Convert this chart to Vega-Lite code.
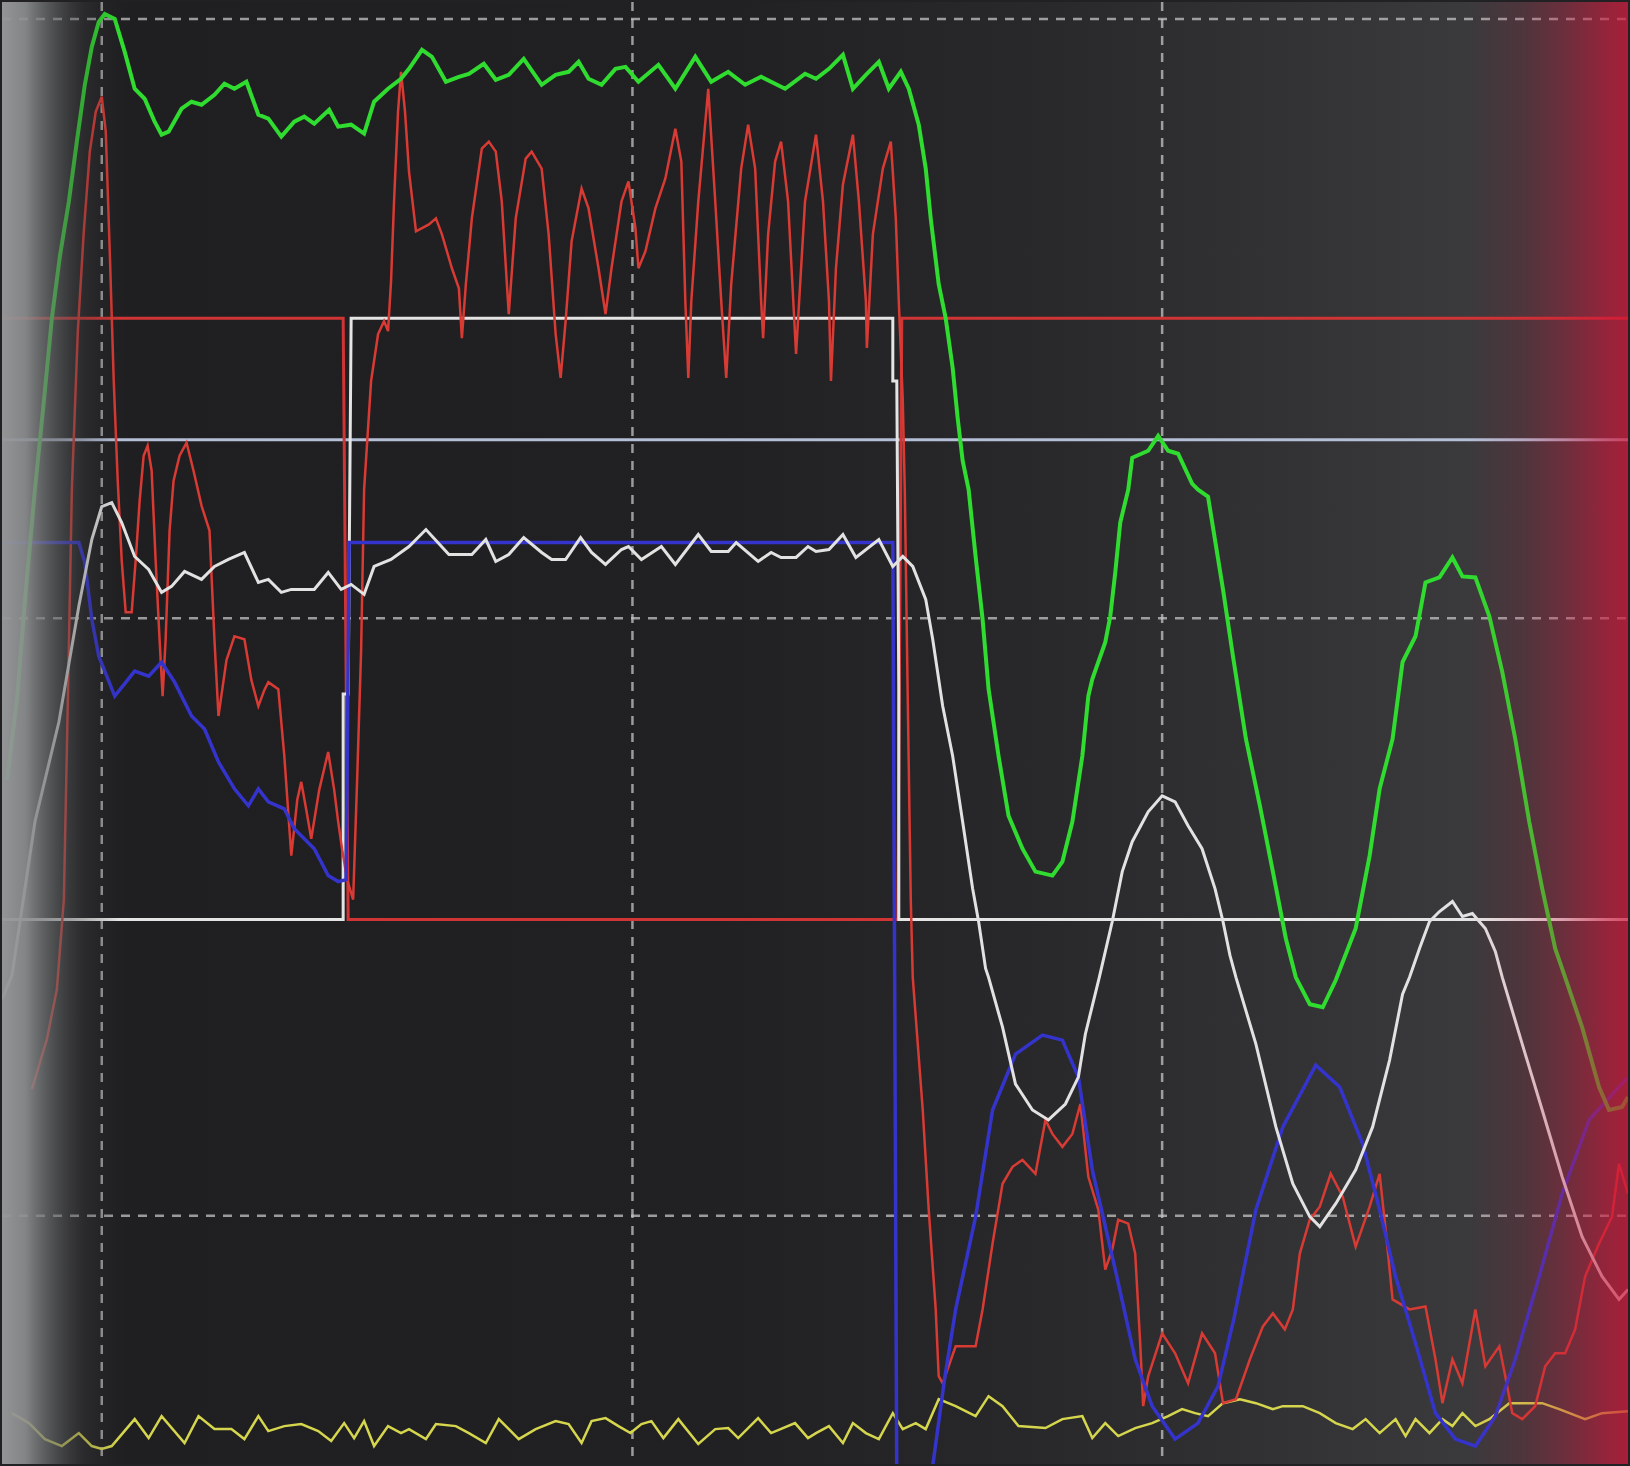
{
"$schema":"https://vega.github.io/schema/vega-lite/v6.json",
"width":1630,"height":1466,
"autosize":{"type":"fit","contains":"padding"},
"padding":0,
"background":"#212123",
"config":{"view":{"stroke":null}},
"encoding":{
 "x":{"field":"t","type":"quantitative","scale":{"domain":[0,1630],"nice":false,"zero":false},"axis":null},
 "y":{"field":"v","type":"quantitative","scale":{"domain":[0,1466],"reverse":true,"nice":false,"zero":false},"axis":null}
},
"datasets":{
 "bg":[{"t":0,"t2":1630,"v":0,"v2":1466}],
 "leftfade":[{"t":0,"t2":118,"v":0,"v2":1466}],
 "rightfade":[{"t":1470,"t2":1630,"v":0,"v2":1466}],
 "vgrid":[{"t":100,"v":0,"v2":1466},{"t":632,"v":0,"v2":1466},{"t":1163,"v":0,"v2":1466}],
 "hgrid":[{"t":0,"t2":1630,"v":17},{"t":0,"t2":1630,"v":618},{"t":0,"t2":1630,"v":1217}],
 "level":[{"t":0,"t2":1630,"v":439}],
 "redStep":[{"t":0,"v":317},{"t":342,"v":317},{"t":347,"v":920},{"t":898,"v":920},{"t":902,"v":317},{"t":1630,"v":317}],
 "whiteStep":[{"t":0,"v":920},{"t":342,"v":920},{"t":342,"v":694},{"t":347,"v":694},{"t":350,"v":317},{"t":893,"v":317},{"t":893,"v":380},{"t":897,"v":380},{"t":899,"v":689},{"t":899,"v":920},{"t":1630,"v":920}],
 "green":[{"t":5,"v":780},{"t":15,"v":700},{"t":23,"v":600},{"t":33,"v":489},{"t":42,"v":400},{"t":50,"v":317},{"t":58,"v":255},{"t":67,"v":200},{"t":75,"v":140},{"t":83,"v":83},{"t":90,"v":45},{"t":97,"v":20},{"t":103,"v":12},{"t":113,"v":17},{"t":123,"v":50},{"t":133,"v":87},{"t":143,"v":97},{"t":153,"v":120},{"t":160,"v":133},{"t":167,"v":130},{"t":180,"v":107},{"t":190,"v":100},{"t":200,"v":103},{"t":213,"v":93},{"t":223,"v":82},{"t":233,"v":87},{"t":245,"v":80},{"t":257,"v":113},{"t":267,"v":117},{"t":280,"v":135},{"t":293,"v":120},{"t":303,"v":115},{"t":313,"v":122},{"t":328,"v":108},{"t":337,"v":125},{"t":350,"v":123},{"t":363,"v":132},{"t":373,"v":100},{"t":387,"v":87},{"t":400,"v":77},{"t":408,"v":67},{"t":421,"v":48},{"t":431,"v":55},{"t":445,"v":80},{"t":458,"v":75},{"t":468,"v":72},{"t":483,"v":62},{"t":495,"v":78},{"t":508,"v":73},{"t":523,"v":57},{"t":541,"v":83},{"t":555,"v":73},{"t":568,"v":70},{"t":578,"v":60},{"t":588,"v":77},{"t":601,"v":83},{"t":615,"v":67},{"t":625,"v":65},{"t":638,"v":80},{"t":658,"v":63},{"t":675,"v":87},{"t":695,"v":55},{"t":711,"v":80},{"t":728,"v":70},{"t":745,"v":83},{"t":761,"v":75},{"t":785,"v":87},{"t":805,"v":72},{"t":816,"v":77},{"t":829,"v":67},{"t":843,"v":53},{"t":853,"v":87},{"t":866,"v":73},{"t":879,"v":60},{"t":889,"v":87},{"t":901,"v":70},{"t":909,"v":87},{"t":919,"v":123},{"t":926,"v":167},{"t":931,"v":217},{"t":939,"v":283},{"t":946,"v":317},{"t":953,"v":367},{"t":958,"v":417},{"t":963,"v":460},{"t":969,"v":489},{"t":976,"v":556},{"t":983,"v":619},{"t":989,"v":689},{"t":999,"v":756},{"t":1009,"v":816},{"t":1023,"v":849},{"t":1036,"v":872},{"t":1053,"v":876},{"t":1063,"v":862},{"t":1073,"v":822},{"t":1083,"v":756},{"t":1089,"v":696},{"t":1093,"v":679},{"t":1106,"v":642},{"t":1111,"v":616},{"t":1116,"v":572},{"t":1121,"v":522},{"t":1129,"v":489},{"t":1133,"v":457},{"t":1149,"v":450},{"t":1159,"v":435},{"t":1169,"v":450},{"t":1179,"v":453},{"t":1193,"v":483},{"t":1199,"v":489},{"t":1209,"v":496},{"t":1224,"v":589},{"t":1234,"v":656},{"t":1247,"v":739},{"t":1261,"v":806},{"t":1274,"v":872},{"t":1287,"v":939},{"t":1297,"v":978},{"t":1311,"v":1005},{"t":1324,"v":1008},{"t":1337,"v":981},{"t":1357,"v":929},{"t":1371,"v":856},{"t":1381,"v":789},{"t":1394,"v":739},{"t":1404,"v":662},{"t":1417,"v":636},{"t":1427,"v":582},{"t":1441,"v":577},{"t":1454,"v":557},{"t":1464,"v":576},{"t":1477,"v":577},{"t":1491,"v":616},{"t":1504,"v":672},{"t":1517,"v":739},{"t":1531,"v":822},{"t":1544,"v":889},{"t":1557,"v":949},{"t":1567,"v":978},{"t":1584,"v":1028},{"t":1601,"v":1088},{"t":1611,"v":1111},{"t":1624,"v":1108},{"t":1630,"v":1098}],
 "red":[{"t":30,"v":1090},{"t":45,"v":1040},{"t":55,"v":990},{"t":62,"v":900},{"t":66,"v":700},{"t":70,"v":489},{"t":76,"v":330},{"t":82,"v":230},{"t":88,"v":150},{"t":94,"v":110},{"t":100,"v":95},{"t":104,"v":130},{"t":108,"v":250},{"t":112,"v":380},{"t":116,"v":480},{"t":120,"v":560},{"t":124,"v":612},{"t":130,"v":612},{"t":134,"v":560},{"t":138,"v":500},{"t":142,"v":455},{"t":146,"v":445},{"t":150,"v":470},{"t":154,"v":560},{"t":158,"v":640},{"t":161,"v":696},{"t":164,"v":640},{"t":168,"v":530},{"t":172,"v":480},{"t":178,"v":455},{"t":185,"v":442},{"t":192,"v":470},{"t":200,"v":505},{"t":208,"v":530},{"t":213,"v":640},{"t":217,"v":716},{"t":225,"v":660},{"t":233,"v":636},{"t":243,"v":639},{"t":250,"v":680},{"t":257,"v":706},{"t":263,"v":690},{"t":267,"v":682},{"t":277,"v":689},{"t":283,"v":756},{"t":290,"v":856},{"t":296,"v":800},{"t":300,"v":782},{"t":305,"v":810},{"t":310,"v":839},{"t":318,"v":790},{"t":327,"v":752},{"t":333,"v":790},{"t":337,"v":822},{"t":341,"v":850},{"t":346,"v":880},{"t":352,"v":900},{"t":356,"v":780},{"t":360,"v":650},{"t":363,"v":489},{"t":370,"v":380},{"t":377,"v":333},{"t":383,"v":320},{"t":387,"v":330},{"t":390,"v":280},{"t":393,"v":200},{"t":397,"v":110},{"t":400,"v":70},{"t":404,"v":110},{"t":408,"v":170},{"t":415,"v":230},{"t":428,"v":223},{"t":435,"v":217},{"t":441,"v":233},{"t":451,"v":267},{"t":458,"v":287},{"t":461,"v":337},{"t":465,"v":283},{"t":471,"v":217},{"t":481,"v":147},{"t":488,"v":140},{"t":495,"v":150},{"t":501,"v":200},{"t":508,"v":313},{"t":515,"v":217},{"t":525,"v":157},{"t":531,"v":150},{"t":541,"v":167},{"t":548,"v":233},{"t":555,"v":333},{"t":560,"v":377},{"t":565,"v":320},{"t":571,"v":240},{"t":581,"v":187},{"t":588,"v":207},{"t":598,"v":267},{"t":605,"v":313},{"t":611,"v":267},{"t":621,"v":200},{"t":628,"v":180},{"t":635,"v":227},{"t":638,"v":267},{"t":645,"v":250},{"t":655,"v":207},{"t":665,"v":177},{"t":675,"v":127},{"t":681,"v":160},{"t":685,"v":300},{"t":688,"v":377},{"t":691,"v":300},{"t":698,"v":200},{"t":708,"v":87},{"t":715,"v":200},{"t":721,"v":300},{"t":726,"v":377},{"t":731,"v":283},{"t":741,"v":167},{"t":748,"v":123},{"t":755,"v":167},{"t":761,"v":300},{"t":763,"v":337},{"t":768,"v":233},{"t":775,"v":160},{"t":781,"v":140},{"t":788,"v":200},{"t":796,"v":353},{"t":805,"v":200},{"t":816,"v":133},{"t":823,"v":200},{"t":829,"v":300},{"t":831,"v":380},{"t":836,"v":267},{"t":843,"v":183},{"t":853,"v":133},{"t":859,"v":200},{"t":866,"v":300},{"t":867,"v":347},{"t":873,"v":233},{"t":883,"v":167},{"t":891,"v":140},{"t":896,"v":217},{"t":899,"v":300},{"t":903,"v":400},{"t":905,"v":489},{"t":908,"v":700},{"t":911,"v":900},{"t":913,"v":978},{"t":916,"v":1018},{"t":923,"v":1111},{"t":929,"v":1211},{"t":936,"v":1311},{"t":939,"v":1378},{"t":943,"v":1385},{"t":956,"v":1348},{"t":976,"v":1348},{"t":983,"v":1311},{"t":993,"v":1245},{"t":1003,"v":1185},{"t":1013,"v":1168},{"t":1023,"v":1161},{"t":1036,"v":1175},{"t":1046,"v":1121},{"t":1053,"v":1135},{"t":1063,"v":1148},{"t":1073,"v":1135},{"t":1081,"v":1105},{"t":1089,"v":1178},{"t":1099,"v":1211},{"t":1106,"v":1271},{"t":1113,"v":1251},{"t":1119,"v":1221},{"t":1129,"v":1225},{"t":1136,"v":1255},{"t":1141,"v":1345},{"t":1144,"v":1408},{"t":1149,"v":1378},{"t":1163,"v":1335},{"t":1176,"v":1355},{"t":1189,"v":1385},{"t":1203,"v":1335},{"t":1216,"v":1355},{"t":1224,"v":1405},{"t":1237,"v":1401},{"t":1251,"v":1361},{"t":1264,"v":1328},{"t":1274,"v":1315},{"t":1286,"v":1331},{"t":1294,"v":1311},{"t":1301,"v":1255},{"t":1311,"v":1221},{"t":1321,"v":1208},{"t":1332,"v":1175},{"t":1344,"v":1198},{"t":1357,"v":1248},{"t":1371,"v":1208},{"t":1381,"v":1175},{"t":1387,"v":1231},{"t":1394,"v":1301},{"t":1411,"v":1311},{"t":1427,"v":1308},{"t":1437,"v":1361},{"t":1444,"v":1405},{"t":1454,"v":1361},{"t":1464,"v":1385},{"t":1477,"v":1311},{"t":1487,"v":1368},{"t":1501,"v":1348},{"t":1507,"v":1378},{"t":1514,"v":1415},{"t":1524,"v":1421},{"t":1537,"v":1408},{"t":1547,"v":1368},{"t":1557,"v":1355},{"t":1567,"v":1355},{"t":1577,"v":1331},{"t":1587,"v":1278},{"t":1601,"v":1245},{"t":1614,"v":1218},{"t":1621,"v":1165},{"t":1630,"v":1195}],
 "white":[{"t":0,"v":1000},{"t":10,"v":976},{"t":33,"v":822},{"t":57,"v":722},{"t":77,"v":606},{"t":90,"v":539},{"t":100,"v":506},{"t":110,"v":502},{"t":120,"v":522},{"t":133,"v":556},{"t":147,"v":569},{"t":160,"v":592},{"t":170,"v":586},{"t":183,"v":571},{"t":200,"v":579},{"t":213,"v":566},{"t":227,"v":559},{"t":243,"v":552},{"t":257,"v":582},{"t":267,"v":579},{"t":280,"v":592},{"t":290,"v":589},{"t":313,"v":589},{"t":327,"v":572},{"t":340,"v":589},{"t":350,"v":584},{"t":363,"v":594},{"t":373,"v":566},{"t":390,"v":559},{"t":408,"v":546},{"t":425,"v":529},{"t":448,"v":554},{"t":471,"v":554},{"t":485,"v":539},{"t":495,"v":561},{"t":508,"v":554},{"t":523,"v":537},{"t":541,"v":552},{"t":551,"v":559},{"t":565,"v":559},{"t":580,"v":537},{"t":591,"v":552},{"t":605,"v":564},{"t":621,"v":549},{"t":628,"v":546},{"t":641,"v":559},{"t":661,"v":546},{"t":675,"v":564},{"t":698,"v":534},{"t":711,"v":551},{"t":728,"v":551},{"t":736,"v":542},{"t":758,"v":561},{"t":771,"v":552},{"t":781,"v":557},{"t":796,"v":557},{"t":808,"v":546},{"t":816,"v":551},{"t":829,"v":549},{"t":843,"v":534},{"t":856,"v":557},{"t":879,"v":539},{"t":893,"v":566},{"t":903,"v":556},{"t":913,"v":566},{"t":926,"v":599},{"t":933,"v":639},{"t":943,"v":706},{"t":953,"v":756},{"t":963,"v":822},{"t":973,"v":889},{"t":979,"v":922},{"t":986,"v":969},{"t":989,"v":978},{"t":1003,"v":1028},{"t":1016,"v":1085},{"t":1033,"v":1111},{"t":1049,"v":1121},{"t":1066,"v":1105},{"t":1079,"v":1078},{"t":1086,"v":1035},{"t":1100,"v":978},{"t":1113,"v":922},{"t":1123,"v":872},{"t":1133,"v":842},{"t":1149,"v":812},{"t":1163,"v":796},{"t":1176,"v":802},{"t":1189,"v":826},{"t":1203,"v":849},{"t":1216,"v":889},{"t":1224,"v":922},{"t":1231,"v":956},{"t":1237,"v":978},{"t":1257,"v":1045},{"t":1277,"v":1128},{"t":1294,"v":1185},{"t":1311,"v":1218},{"t":1321,"v":1228},{"t":1337,"v":1205},{"t":1357,"v":1171},{"t":1374,"v":1128},{"t":1391,"v":1061},{"t":1404,"v":995},{"t":1411,"v":978},{"t":1421,"v":949},{"t":1431,"v":922},{"t":1441,"v":912},{"t":1454,"v":902},{"t":1464,"v":917},{"t":1474,"v":914},{"t":1487,"v":929},{"t":1497,"v":952},{"t":1504,"v":978},{"t":1524,"v":1045},{"t":1544,"v":1111},{"t":1564,"v":1178},{"t":1584,"v":1238},{"t":1604,"v":1278},{"t":1621,"v":1301},{"t":1630,"v":1291}],
 "blue":[{"t":0,"v":542},{"t":77,"v":542},{"t":83,"v":562},{"t":90,"v":619},{"t":97,"v":656},{"t":113,"v":696},{"t":133,"v":671},{"t":147,"v":676},{"t":160,"v":662},{"t":173,"v":682},{"t":190,"v":716},{"t":203,"v":729},{"t":217,"v":762},{"t":233,"v":789},{"t":247,"v":806},{"t":257,"v":789},{"t":267,"v":802},{"t":283,"v":809},{"t":293,"v":829},{"t":313,"v":849},{"t":327,"v":876},{"t":337,"v":882},{"t":345,"v":880},{"t":348,"v":542},{"t":893,"v":542},{"t":897,"v":1490},{"t":930,"v":1490},{"t":945,"v":1380},{"t":956,"v":1311},{"t":976,"v":1218},{"t":993,"v":1111},{"t":1016,"v":1055},{"t":1043,"v":1036},{"t":1063,"v":1041},{"t":1079,"v":1078},{"t":1093,"v":1171},{"t":1116,"v":1271},{"t":1136,"v":1361},{"t":1153,"v":1408},{"t":1176,"v":1441},{"t":1199,"v":1425},{"t":1219,"v":1388},{"t":1235,"v":1320},{"t":1257,"v":1211},{"t":1284,"v":1128},{"t":1317,"v":1066},{"t":1341,"v":1088},{"t":1364,"v":1145},{"t":1381,"v":1211},{"t":1397,"v":1278},{"t":1417,"v":1345},{"t":1437,"v":1415},{"t":1457,"v":1441},{"t":1477,"v":1448},{"t":1497,"v":1418},{"t":1517,"v":1361},{"t":1541,"v":1278},{"t":1564,"v":1195},{"t":1591,"v":1121},{"t":1630,"v":1078}],
 "yellow":[{"t":10,"v":1415},{"t":27,"v":1425},{"t":43,"v":1441},{"t":60,"v":1448},{"t":77,"v":1435},{"t":90,"v":1448},{"t":100,"v":1451},{"t":110,"v":1448},{"t":133,"v":1421},{"t":147,"v":1440},{"t":160,"v":1418},{"t":183,"v":1445},{"t":197,"v":1418},{"t":213,"v":1431},{"t":230,"v":1431},{"t":243,"v":1441},{"t":257,"v":1418},{"t":267,"v":1433},{"t":283,"v":1428},{"t":300,"v":1426},{"t":317,"v":1433},{"t":330,"v":1443},{"t":343,"v":1425},{"t":353,"v":1440},{"t":363,"v":1423},{"t":373,"v":1448},{"t":387,"v":1428},{"t":400,"v":1435},{"t":408,"v":1431},{"t":425,"v":1441},{"t":435,"v":1426},{"t":455,"v":1428},{"t":468,"v":1435},{"t":485,"v":1445},{"t":498,"v":1421},{"t":518,"v":1441},{"t":535,"v":1431},{"t":555,"v":1423},{"t":568,"v":1426},{"t":581,"v":1445},{"t":591,"v":1423},{"t":605,"v":1420},{"t":618,"v":1428},{"t":630,"v":1435},{"t":641,"v":1426},{"t":651,"v":1423},{"t":663,"v":1440},{"t":678,"v":1421},{"t":698,"v":1446},{"t":715,"v":1431},{"t":728,"v":1430},{"t":738,"v":1440},{"t":758,"v":1420},{"t":771,"v":1435},{"t":795,"v":1425},{"t":808,"v":1440},{"t":816,"v":1435},{"t":829,"v":1428},{"t":843,"v":1445},{"t":853,"v":1425},{"t":866,"v":1435},{"t":879,"v":1441},{"t":893,"v":1415},{"t":903,"v":1431},{"t":916,"v":1425},{"t":926,"v":1431},{"t":939,"v":1401},{"t":956,"v":1408},{"t":976,"v":1418},{"t":989,"v":1398},{"t":1003,"v":1408},{"t":1019,"v":1428},{"t":1046,"v":1430},{"t":1063,"v":1421},{"t":1083,"v":1418},{"t":1093,"v":1440},{"t":1106,"v":1425},{"t":1119,"v":1438},{"t":1136,"v":1430},{"t":1153,"v":1425},{"t":1169,"v":1418},{"t":1183,"v":1411},{"t":1196,"v":1415},{"t":1209,"v":1418},{"t":1224,"v":1405},{"t":1241,"v":1401},{"t":1257,"v":1405},{"t":1274,"v":1411},{"t":1284,"v":1408},{"t":1304,"v":1408},{"t":1321,"v":1415},{"t":1337,"v":1425},{"t":1354,"v":1431},{"t":1367,"v":1421},{"t":1381,"v":1435},{"t":1397,"v":1421},{"t":1407,"v":1438},{"t":1417,"v":1421},{"t":1431,"v":1435},{"t":1444,"v":1421},{"t":1454,"v":1428},{"t":1464,"v":1415},{"t":1477,"v":1428},{"t":1491,"v":1421},{"t":1511,"v":1405},{"t":1531,"v":1405},{"t":1544,"v":1405},{"t":1561,"v":1411},{"t":1587,"v":1421},{"t":1604,"v":1415},{"t":1630,"v":1413}]
},
"layer":[
 {"data":{"name":"bg"},"mark":{"type":"rect","color":{"gradient":"linear","x1":0,"y1":0,"x2":1,"y2":0,"stops":[{"offset":0,"color":"#2a2a2c"},{"offset":0.08,"color":"#1f1f21"},{"offset":0.45,"color":"#212123"},{"offset":0.65,"color":"#29292b"},{"offset":0.8,"color":"#333335"},{"offset":0.9,"color":"#3a3a3c"},{"offset":1,"color":"#3a3a3c"}]}},
  "encoding":{"x2":{"field":"t2"},"y2":{"field":"v2"}}},
 {"data":{"name":"vgrid"},"mark":{"type":"rule","color":"#c4c4c4","opacity":0.75,"strokeWidth":2.5,"strokeDash":[9,8]},"encoding":{"y2":{"field":"v2"}}},
 {"data":{"name":"hgrid"},"mark":{"type":"rule","color":"#c4c4c4","opacity":0.75,"strokeWidth":2.5,"strokeDash":[9,8]},"encoding":{"x2":{"field":"t2"}}},
 {"data":{"name":"level"},"mark":{"type":"rule","color":"#b4bed6","strokeWidth":3},"encoding":{"x2":{"field":"t2"}}},
 {"data":{"name":"redStep"},"mark":{"type":"line","color":"#d03434","strokeWidth":3,"clip":true},"encoding":{"order":{"value":null}}},
 {"data":{"name":"whiteStep"},"mark":{"type":"line","color":"#e4e4e4","strokeWidth":3,"clip":true},"encoding":{"order":{"value":null}}},
 {"data":{"name":"yellow"},"mark":{"type":"line","color":"#d6d64e","strokeWidth":2.5,"clip":true},"encoding":{"order":{"value":null}}},
 {"data":{"name":"red"},"mark":{"type":"line","color":"#d83a34","strokeWidth":2.5,"clip":true},"encoding":{"order":{"value":null}}},
 {"data":{"name":"blue"},"mark":{"type":"line","color":"#3434cc","strokeWidth":3.5,"clip":true},"encoding":{"order":{"value":null}}},
 {"data":{"name":"white"},"mark":{"type":"line","color":"#e2e2e2","strokeWidth":3,"clip":true},"encoding":{"order":{"value":null}}},
 {"data":{"name":"green"},"mark":{"type":"line","color":"#2fdc2f","strokeWidth":4,"clip":true},"encoding":{"order":{"value":null}}},
 {"data":{"name":"leftfade"},"mark":{"type":"rect","color":{"gradient":"linear","x1":0,"y1":0,"x2":1,"y2":0,"stops":[{"offset":0,"color":"rgba(150,152,154,0.97)"},{"offset":0.2,"color":"rgba(140,142,144,0.9)"},{"offset":0.45,"color":"rgba(100,102,104,0.6)"},{"offset":0.7,"color":"rgba(60,60,62,0.3)"},{"offset":1,"color":"rgba(40,40,42,0)"}]}},
  "encoding":{"x2":{"field":"t2"},"y2":{"field":"v2"}}},
 {"data":{"name":"rightfade"},"mark":{"type":"rect","color":{"gradient":"linear","x1":0,"y1":0,"x2":1,"y2":0,"stops":[{"offset":0,"color":"rgba(200,25,60,0)"},{"offset":0.35,"color":"rgba(200,25,60,0.15)"},{"offset":0.6,"color":"rgba(200,25,60,0.35)"},{"offset":0.85,"color":"rgba(205,22,58,0.6)"},{"offset":1,"color":"rgba(210,20,55,0.72)"}]}},
  "encoding":{"x2":{"field":"t2"},"y2":{"field":"v2"}}}
]
}
